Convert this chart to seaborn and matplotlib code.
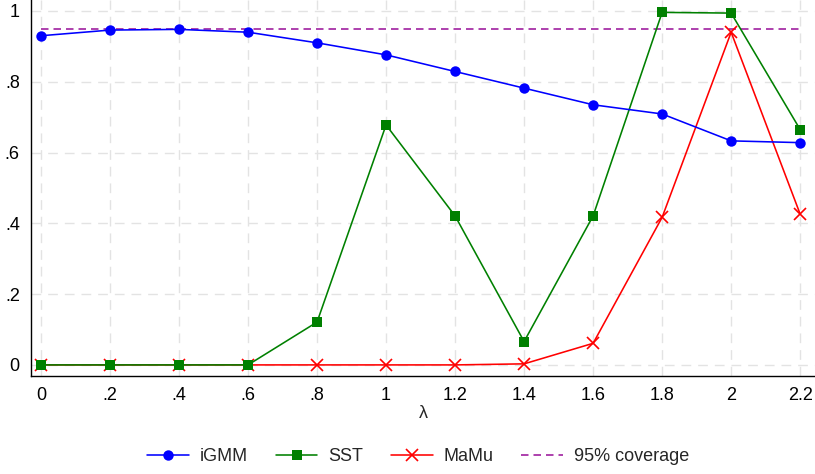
import matplotlib
matplotlib.use('Agg')
import matplotlib.pyplot as plt
import numpy as np
import pandas as pd
import seaborn as sns

# data
lam = [0, 0.2, 0.4, 0.6, 0.8, 1.0, 1.2, 1.4, 1.6, 1.8, 2.0, 2.2]
igmm = [0.930, 0.946, 0.948, 0.940, 0.910, 0.876, 0.829, 0.782, 0.735, 0.709, 0.633, 0.628]
sst = [0.0, 0.0, 0.0, 0.0, 0.121, 0.678, 0.421, 0.066, 0.421, 0.996, 0.994, 0.665]
mamu = [0.0, 0.0, 0.0, 0.0, 0.0, 0.0, 0.0, 0.003, 0.061, 0.417, 0.940, 0.426]
coverage = 0.95

x_ticks = [0, 0.2, 0.4, 0.6, 0.8, 1.0, 1.2, 1.4, 1.6, 1.8, 2.0, 2.2]
x_labels = ['0', '.2', '.4', '.6', '.8', '1', '1.2', '1.4', '1.6', '1.8', '2', '2.2']
y_ticks = [0, 0.2, 0.4, 0.6, 0.8, 1.0]
y_labels = ['0', '.2', '.4', '.6', '.8', '1']

df = pd.DataFrame({
    'lambda': lam * 3,
    'coverage': igmm + sst + mamu,
    'method': ['iGMM'] * len(lam) + ['SST'] * len(lam) + ['MaMu'] * len(lam),
})

sns.set_style('white')
plt.rcParams['font.family'] = ['Liberation Sans', 'DejaVu Sans']

fig = plt.figure(figsize=(8.15, 4.74), dpi=100)
ax = fig.add_axes([0.038, 0.207, 0.962, 0.793])

palette = {'iGMM': 'blue', 'SST': 'green', 'MaMu': 'red'}
markers = {'iGMM': 'o', 'SST': 's', 'MaMu': 'x'}
sizes = {'iGMM': 7.5, 'SST': 7.0, 'MaMu': 8.0}
zorders = {'iGMM': 4, 'SST': 3, 'MaMu': 2}

for name in ['iGMM', 'SST', 'MaMu']:
    sub = df[df['method'] == name]
    sns.lineplot(data=sub, x='lambda', y='coverage', ax=ax, color=palette[name],
                 marker=markers[name], markersize=sizes[name], linewidth=1.15,
                 markeredgewidth=1.2 if name == 'MaMu' else 0,
                 markeredgecolor=palette[name], label=name, zorder=zorders[name])

ax.plot([0, 2.2], [coverage, coverage], color='#a0209f', linestyle=(0, (4.5, 3)),
        linewidth=1.2, label='95% coverage', zorder=1.5)

ax.set_xlim(-0.029, 2.243)
ax.set_ylim(-0.031, 1.031)
ax.set_xticks(x_ticks)
ax.set_xticklabels(x_labels)
ax.set_yticks(y_ticks)
ax.set_yticklabels(y_labels)
ax.tick_params(axis='both', direction='out', length=5, width=1, labelsize=13, colors='black')
ax.tick_params(axis='x', pad=3)
ax.tick_params(axis='y', pad=3)
ax.set_xlabel('λ', fontsize=13, labelpad=1)
ax.set_ylabel('')

ax.grid(True, color='#e3e3e3', linestyle=(0, (7, 5)), linewidth=1.0)
ax.set_axisbelow(True)
for side in ['top', 'right']:
    ax.spines[side].set_visible(False)
for side in ['left', 'bottom']:
    ax.spines[side].set_color('black')
    ax.spines[side].set_linewidth(1.0)

ax.legend(loc='center', bbox_to_anchor=(0.494, -0.215), ncol=4, frameon=False,
          fontsize=13, handlelength=2.3, columnspacing=1.55, handletextpad=0.6)

fig.savefig('out.png', dpi=100)
